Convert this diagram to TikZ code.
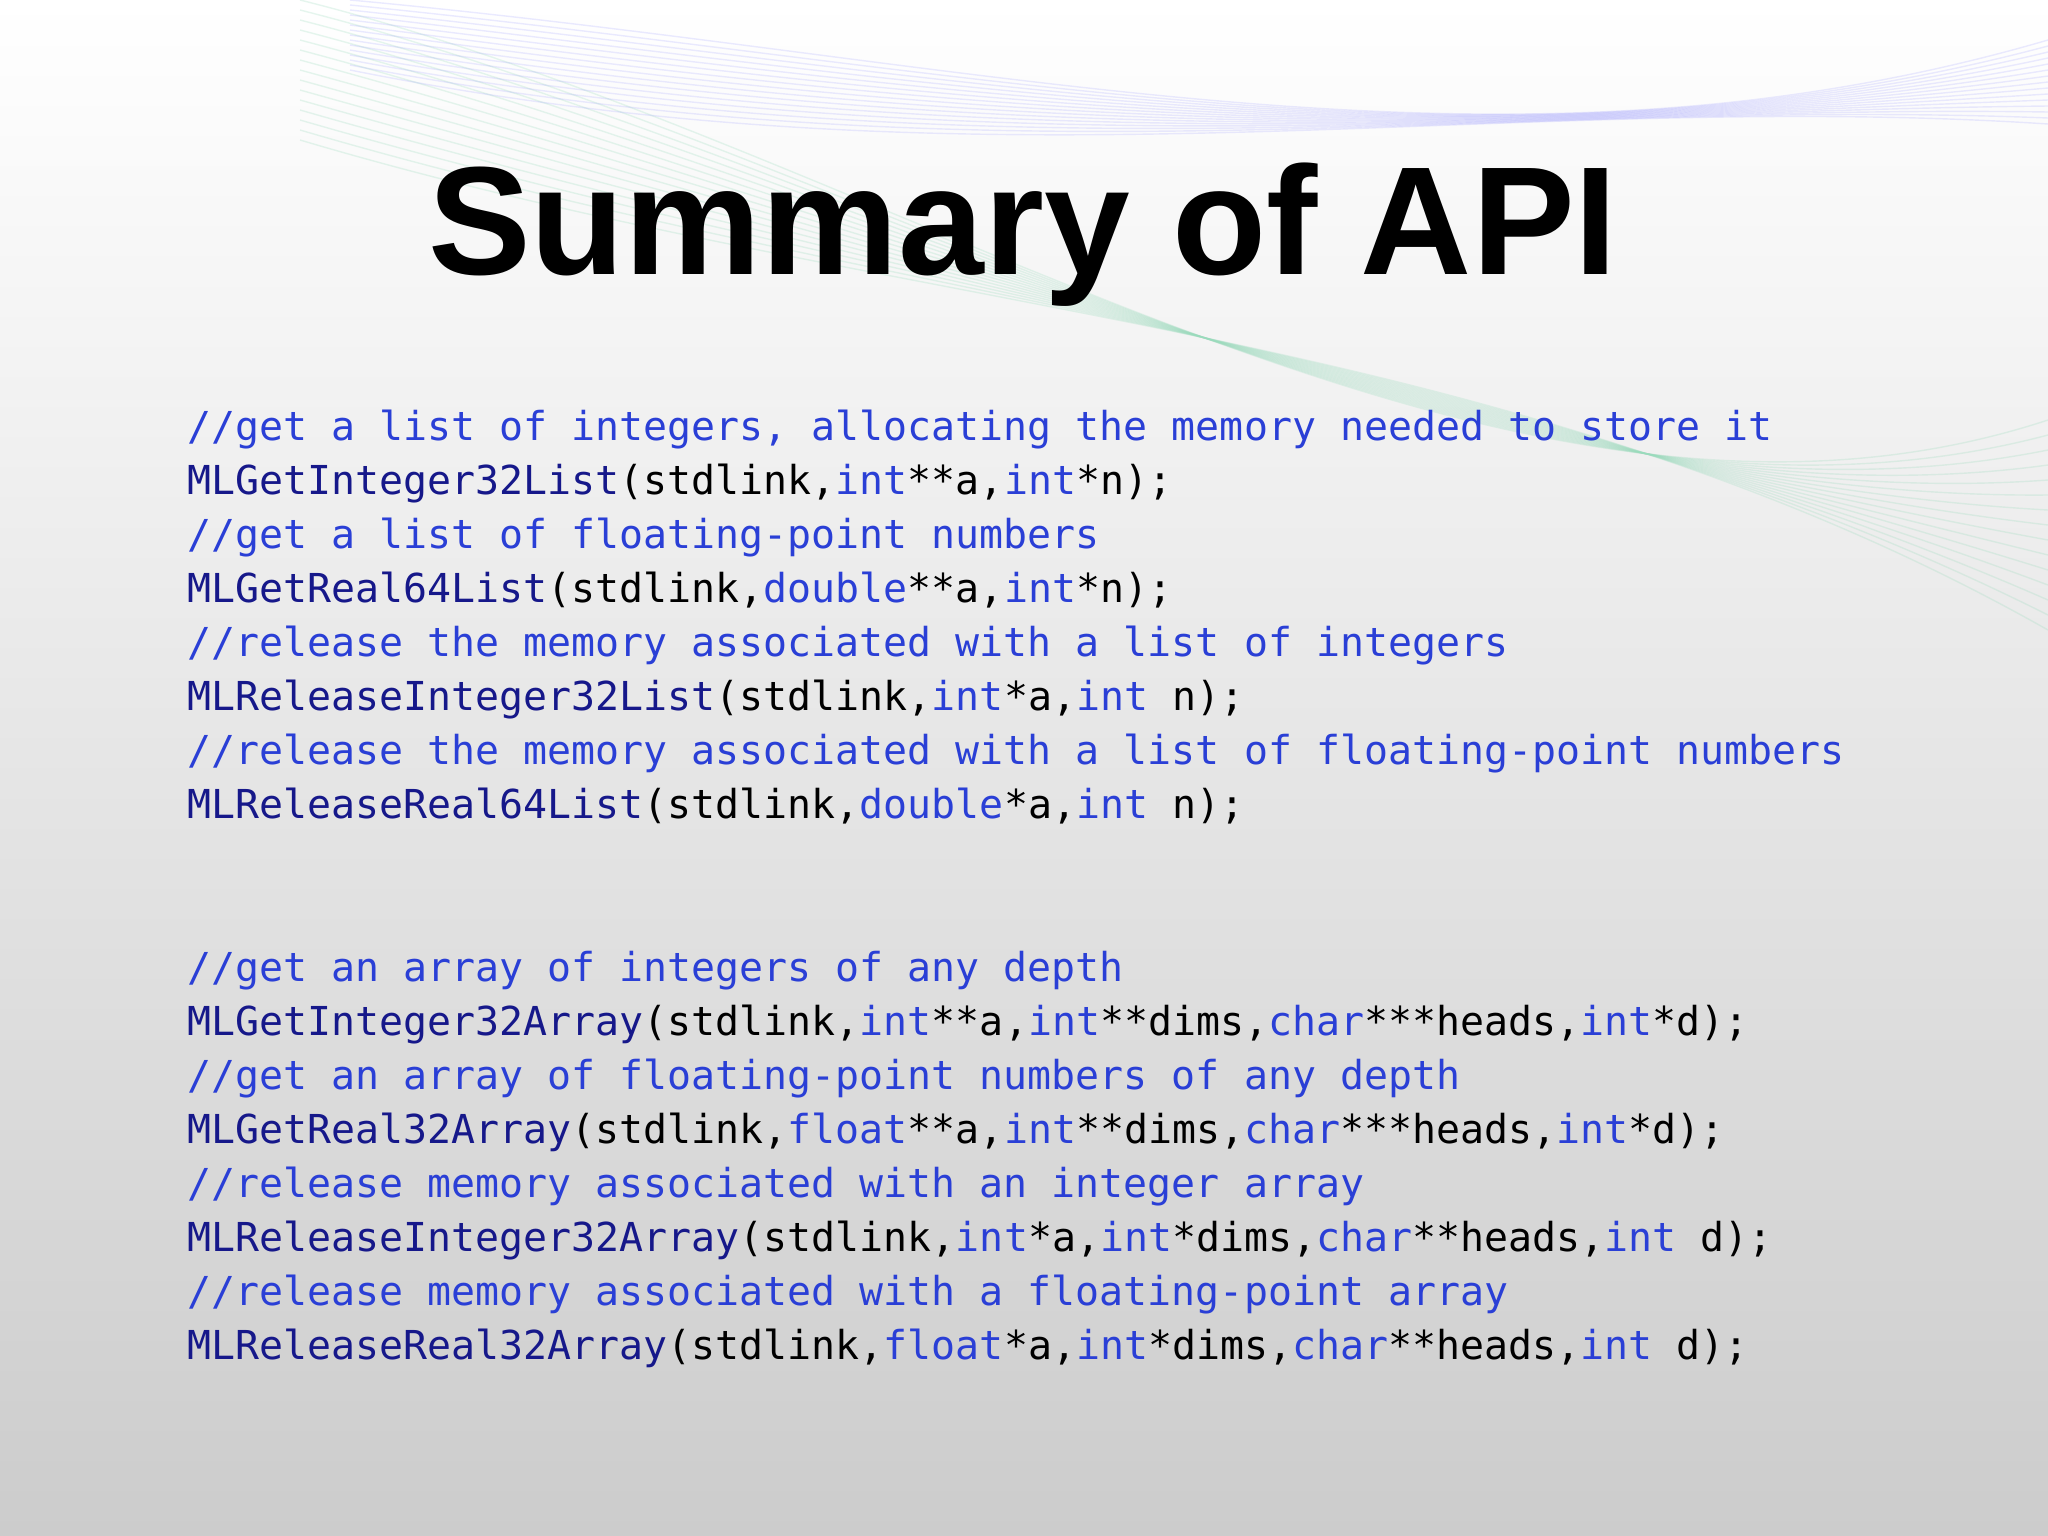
\documentclass[tikz,border=0pt]{standalone}
\usepackage{fontspec}
\setmainfont{Liberation Sans}
\setmonofont{DejaVu Sans Mono}
\definecolor{cmt}{HTML}{2A3FD6}
\definecolor{kw}{HTML}{2A3FD6}
\definecolor{fnc}{HTML}{16188A}
\newcommand{\cmt}[1]{\textcolor{cmt}{#1}}
\newcommand{\ty}[1]{\textcolor{kw}{#1}}
\newcommand{\fnn}[1]{\textcolor{fnc}{#1}}
\begin{document}
\begin{tikzpicture}[x=0.01cm,y=0.01cm,
  code/.style={anchor=base west,inner sep=0pt,font=\ttfamily\fontsize{11.34}{14}\selectfont}]
\useasboundingbox (0,0) rectangle (2048,-1536);
\shade[top color=white,bottom color=black!20] (0,0) rectangle (2048,-1536);
\foreach \i in {0,...,14}{
  \draw[cyan!30!green!40,opacity=0.25,line width=0.4pt]
    (300,{-10*\i}) .. controls (900,{-150-12*\i}) and (1500,{-600+20*\i}) .. (2048,{-420-15*\i});
  \draw[blue!40,opacity=0.2,line width=0.4pt]
    (350,{-5*\i}) .. controls (1000,{-60-10*\i}) and (1500,{-200+8*\i}) .. (2048,{-40-6*\i});
}
\node[anchor=center,inner sep=0pt,font=\bfseries\fontsize{43.8}{48}\selectfont] (title) at (1023,-235) {Summary of API};
\node[code] (l1) at (187,-440) {\cmt{//get a list of integers, allocating the memory needed to store it}};
\node[code] (l2) at (187,-494) {\fnn{MLGetInteger32List}(stdlink,\ty{int}**a,\ty{int}*n);};
\node[code] (l3) at (187,-548) {\cmt{//get a list of floating-point numbers}};
\node[code] (l4) at (187,-602) {\fnn{MLGetReal64List}(stdlink,\ty{double}**a,\ty{int}*n);};
\node[code] (l5) at (187,-656) {\cmt{//release the memory associated with a list of integers}};
\node[code] (l6) at (187,-710) {\fnn{MLReleaseInteger32List}(stdlink,\ty{int}*a,\ty{int} n);};
\node[code] (l7) at (187,-764) {\cmt{//release the memory associated with a list of floating-point numbers}};
\node[code] (l8) at (187,-818) {\fnn{MLReleaseReal64List}(stdlink,\ty{double}*a,\ty{int} n);};
\node[code] (m1) at (187,-981) {\cmt{//get an array of integers of any depth}};
\node[code] (m2) at (187,-1035) {\fnn{MLGetInteger32Array}(stdlink,\ty{int}**a,\ty{int}**dims,\ty{char}***heads,\ty{int}*d);};
\node[code] (m3) at (187,-1089) {\cmt{//get an array of floating-point numbers of any depth}};
\node[code] (m4) at (187,-1143) {\fnn{MLGetReal32Array}(stdlink,\ty{float}**a,\ty{int}**dims,\ty{char}***heads,\ty{int}*d);};
\node[code] (m5) at (187,-1197) {\cmt{//release memory associated with an integer array}};
\node[code] (m6) at (187,-1251) {\fnn{MLReleaseInteger32Array}(stdlink,\ty{int}*a,\ty{int}*dims,\ty{char}**heads,\ty{int} d);};
\node[code] (m7) at (187,-1305) {\cmt{//release memory associated with a floating-point array}};
\node[code] (m8) at (187,-1359) {\fnn{MLReleaseReal32Array}(stdlink,\ty{float}*a,\ty{int}*dims,\ty{char}**heads,\ty{int} d);};
\end{tikzpicture}
\end{document}
